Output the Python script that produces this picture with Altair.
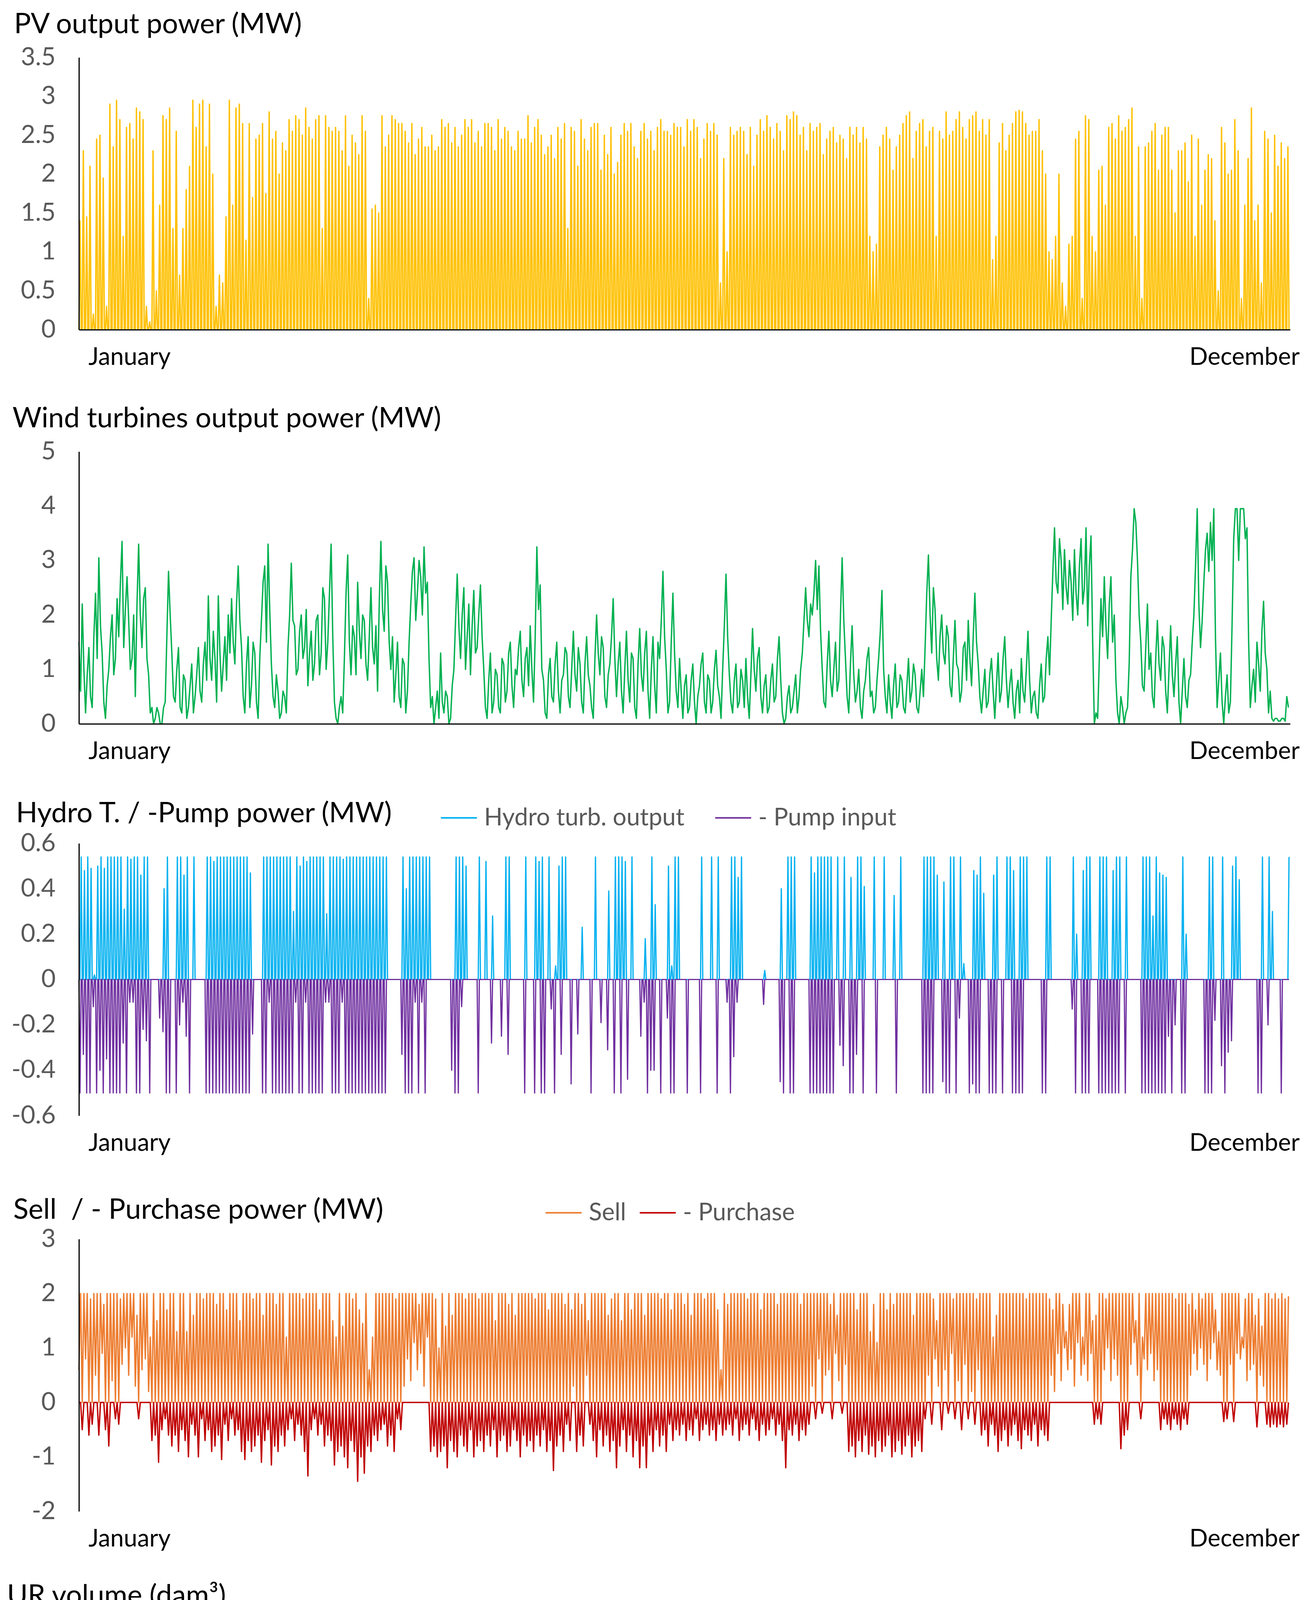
import altair as alt
import pandas as pd

FONT = "Lato"

# x-axis end labels
months = ["January", "December"]

# PV: daily peak output (MW), one value per day, Jan 1 .. Dec 31
pv_peak = [
    1.4, 2.3, 1.45, 2.1, 0.2, 2.45, 2.5, 1.95, 0.3, 2.9, 2.35, 2.95, 2.7, 1.2, 2.6, 2.65, 2.45, 2.85, 2.8, 2.7,
    0.3, 0.1, 2.3, 0.5, 1.6, 2.75, 2.7, 2.85, 1.3, 2.55, 0.7, 1.3, 1.8, 2.1, 2.95, 2.6, 2.9, 2.95, 2.35, 2.9,
    2.0, 0.3, 0.7, 0.6, 1.45, 2.95, 1.6, 2.85, 2.9, 2.65, 1.15, 2.65, 1.7, 2.45, 2.5, 2.65, 1.75, 2.8, 2.45, 2.55,
    2.0, 2.4, 2.3, 2.7, 2.55, 2.75, 2.7, 2.5, 2.85, 2.6, 2.45, 2.7, 2.75, 1.3, 2.75, 2.6, 2.55, 2.6, 2.55, 2.3,
    2.75, 2.1, 2.5, 2.4, 2.25, 2.75, 2.55, 0.4, 1.55, 1.6, 1.5, 2.75, 2.35, 2.5, 2.75, 2.7, 2.65, 2.65, 2.55, 2.4,
    2.65, 2.25, 2.45, 2.6, 2.35, 2.35, 2.5, 2.3, 2.35, 2.7, 2.6, 2.65, 2.4, 2.6, 2.35, 2.5, 2.7, 2.6, 2.7, 2.4,
    2.55, 2.35, 2.65, 2.65, 2.6, 2.3, 2.7, 2.45, 2.6, 2.55, 2.35, 2.3, 2.55, 2.45, 2.45, 2.75, 2.4, 2.6, 2.7, 2.5,
    2.25, 2.35, 2.5, 2.2, 2.6, 2.45, 2.65, 1.3, 2.6, 2.55, 2.1, 2.7, 2.45, 2.3, 2.6, 2.65, 2.65, 2.05, 2.5, 2.25,
    2.6, 2.0, 2.15, 2.5, 2.65, 2.55, 2.65, 2.35, 2.2, 2.55, 2.65, 2.45, 2.55, 2.3, 2.6, 2.7, 2.55, 2.55, 2.5, 2.65,
    2.6, 2.6, 2.35, 2.7, 2.55, 2.7, 2.6, 2.2, 2.45, 2.65, 2.55, 2.65, 2.5, 0.6, 2.2, 1.0, 2.6, 2.5, 2.55, 2.6,
    2.55, 2.25, 2.6, 2.1, 2.5, 2.7, 2.55, 2.75, 2.6, 2.45, 2.65, 2.55, 2.3, 2.75, 2.7, 2.8, 2.75, 2.5, 2.6, 2.3,
    2.65, 2.55, 2.6, 2.65, 2.25, 2.45, 2.55, 2.6, 2.4, 2.5, 2.45, 2.2, 2.6, 2.5, 2.6, 2.4, 2.6, 2.45, 1.2, 1.0,
    1.1, 2.35, 2.5, 2.6, 2.45, 2.05, 2.35, 2.5, 2.65, 2.75, 2.8, 2.2, 2.55, 2.65, 2.7, 2.35, 2.55, 2.6, 1.2, 2.55,
    2.45, 2.8, 2.5, 2.55, 2.7, 2.8, 2.6, 2.45, 2.7, 2.75, 2.8, 2.55, 2.7, 2.5, 2.7, 0.9, 1.2, 2.4, 2.65, 2.3,
    2.5, 2.65, 2.8, 2.82, 2.8, 2.65, 2.5, 2.55, 2.55, 2.7, 2.3, 2.0, 1.0, 0.9, 1.2, 2.0, 0.6, 0.3, 1.1, 1.2,
    2.45, 2.55, 0.4, 2.75, 2.7, 1.2, 1.0, 2.05, 2.1, 1.6, 2.6, 2.65, 2.45, 2.75, 2.55, 2.6, 2.7, 2.85, 1.2, 2.35,
    0.4, 2.35, 2.4, 2.55, 2.65, 2.05, 2.5, 2.6, 2.6, 2.05, 1.5, 2.3, 2.3, 2.4, 1.9, 2.5, 1.2, 2.45, 1.6, 2.05,
    2.25, 2.2, 1.4, 0.5, 2.6, 2.4, 2.0, 2.05, 2.7, 2.3, 0.4, 1.6, 2.2, 2.85, 1.4, 1.6, 0.6, 2.55, 2.45, 1.5,
    2.5, 2.1, 2.4, 2.2, 2.35,
]

# wind turbines output (MW): reading at midnight of each day ...
wind = [
    1.5, 2.2, 0.2, 1.4, 0.3, 2.4, 3.05, 1.3, 0.1, 1.0, 2.0, 1.2, 1.6, 3.35, 2.1, 1.9, 1.2, 0.5, 3.3, 1.4,
    2.5, 0.9, 0.3, 0.1, 0.2, 0.0, 0.4, 2.8, 1.3, 0.4, 1.4, 0.2, 0.8, 0.3, 1.1, 0.5, 1.4, 0.4, 1.5, 2.35,
    0.8, 1.2, 2.35, 0.6, 1.6, 2.0, 2.3, 1.1, 2.9, 1.4, 0.2, 1.6, 0.7, 1.3, 0.1, 1.9, 2.9, 3.3, 1.1, 0.3,
    0.6, 0.2, 0.5, 1.4, 2.95, 1.8, 1.0, 2.0, 1.4, 0.7, 1.7, 1.1, 2.0, 1.3, 2.3, 1.5, 3.3, 0.4, 0.0, 0.5,
    1.2, 3.1, 0.9, 1.6, 2.6, 1.2, 1.9, 0.8, 2.5, 1.1, 0.6, 3.35, 1.7, 2.6, 1.0, 0.4, 1.5, 0.3, 1.1, 0.6,
    2.2, 3.05, 2.4, 2.7, 3.25, 2.6, 0.3, 0.0, 0.6, 1.3, 0.2, 0.5, 0.1, 1.0, 2.75, 1.2, 2.5, 1.6, 0.9, 2.45,
    1.4, 2.55, 1.0, 0.1, 1.3, 0.4, 0.9, 0.2, 1.1, 0.6, 1.5, 0.3, 0.9, 1.7, 0.5, 1.4, 1.8, 0.4, 3.25, 2.55,
    0.8, 0.1, 1.2, 0.4, 1.5, 0.2, 0.9, 1.3, 0.3, 1.7, 0.6, 1.1, 0.2, 1.6, 0.7, 0.1, 2.0, 0.9, 1.4, 0.3,
    1.1, 2.3, 0.5, 1.5, 0.2, 1.7, 0.4, 1.2, 0.1, 1.75, 0.6, 1.7, 0.1, 1.6, 0.2, 1.2, 2.8, 1.0, 0.4, 2.4,
    0.6, 1.2, 0.1, 0.9, 0.3, 1.1, 0.0, 0.7, 1.3, 0.2, 0.8, 0.4, 1.35, 0.5, 1.0, 2.75, 0.9, 0.2, 1.1, 0.4,
    0.8, 1.2, 0.1, 1.75, 0.6, 1.4, 0.2, 0.9, 0.3, 1.1, 0.5, 1.6, 0.2, 0.1, 0.7, 0.3, 0.9, 0.5, 1.3, 2.5,
    1.6, 2.0, 3.0, 2.9, 1.0, 0.3, 1.7, 0.5, 1.5, 0.8, 3.05, 1.2, 0.2, 1.8, 0.4, 1.0, 0.1, 0.8, 1.4, 0.6,
    0.3, 1.2, 2.45, 0.5, 0.9, 0.1, 1.1, 0.4, 0.8, 0.2, 1.2, 0.6, 0.9, 0.2, 1.0, 1.4, 3.1, 1.3, 2.1, 0.8,
    2.0, 1.1, 1.6, 0.5, 1.9, 1.0, 0.6, 1.5, 1.9, 0.7, 2.4, 1.1, 0.2, 1.0, 0.4, 1.2, 0.1, 1.3, 0.6, 1.6,
    0.3, 1.0, 0.1, 0.8, 1.2, 0.4, 1.7, 0.2, 0.6, 0.1, 1.1, 0.5, 1.6, 1.9, 3.6, 2.4, 3.0, 3.2, 2.2, 2.6,
    3.2, 2.0, 3.4, 2.5, 1.8, 3.45, 0.0, 0.1, 2.3, 2.7, 1.2, 2.7, 2.0, 0.2, 0.5, 0.0, 0.3, 2.7, 3.95, 3.0,
    1.5, 0.6, 2.2, 1.3, 0.3, 1.9, 0.8, 1.4, 0.2, 1.8, 0.5, 1.6, 0.0, 1.2, 0.3, 0.9, 2.0, 3.95, 1.4, 2.6,
    3.5, 3.7, 3.95, 0.3, 1.3, 0.0, 0.9, 0.4, 3.4, 3.95, 3.95, 3.95, 3.6, 0.3, 1.0, 1.5, 0.6, 2.25, 1.0, 0.6,
    0.05, 0.1, 0.05, 0.1, 0.5,
]
# ... and at noon of each day
wind_noon = [
    0.6, 1.0, 0.9, 0.5, 1.6, 1.2, 1.8, 0.4, 0.7, 1.6, 0.9, 2.3, 2.6, 1.4, 2.7, 1.0, 2.0, 2.2, 2.0, 2.3,
    1.2, 0.2, 0.0, 0.3, 0.0, 0.3, 1.6, 2.0, 0.5, 1.0, 0.3, 0.9, 0.1, 0.7, 0.2, 0.9, 0.6, 1.1, 0.8, 1.2,
    1.7, 0.4, 1.3, 1.1, 0.8, 1.3, 1.5, 2.2, 1.9, 0.5, 1.1, 0.3, 1.5, 0.4, 1.2, 2.6, 1.5, 2.1, 0.5, 0.9,
    0.1, 0.6, 0.2, 2.0, 1.9, 0.9, 1.7, 1.2, 2.1, 1.3, 0.8, 1.9, 0.9, 2.5, 1.0, 2.4, 1.6, 0.1, 0.3, 0.2,
    2.4, 1.5, 1.8, 0.9, 1.7, 2.0, 1.1, 1.6, 1.4, 1.8, 2.2, 2.1, 2.9, 1.5, 1.6, 0.9, 0.5, 1.2, 0.2, 1.5,
    2.8, 1.9, 3.0, 2.0, 2.4, 1.2, 0.5, 0.3, 0.1, 0.4, 0.6, 0.0, 0.7, 1.9, 1.8, 2.0, 1.0, 2.2, 1.8, 1.3,
    2.0, 1.6, 0.3, 0.8, 0.2, 1.0, 0.3, 1.2, 0.4, 1.3, 0.7, 1.0, 1.4, 0.8, 1.2, 0.7, 1.0, 1.6, 2.1, 1.0,
    0.2, 0.9, 0.5, 1.1, 0.6, 0.8, 1.4, 0.5, 1.0, 0.9, 1.4, 0.4, 1.1, 0.9, 0.3, 1.2, 1.3, 1.6, 0.5, 0.9,
    1.6, 1.2, 1.1, 0.6, 1.0, 0.8, 1.3, 0.3, 1.1, 0.9, 1.3, 0.6, 1.0, 0.7, 1.5, 1.9, 1.6, 0.2, 1.5, 1.3,
    0.3, 0.6, 0.7, 0.2, 0.8, 0.4, 0.5, 1.1, 0.4, 0.9, 0.2, 1.0, 0.7, 0.1, 1.8, 1.6, 0.4, 0.8, 0.3, 1.0,
    0.3, 0.5, 0.9, 1.0, 1.2, 0.5, 0.7, 0.2, 0.8, 0.4, 1.2, 0.8, 0.0, 0.5, 0.2, 0.6, 0.2, 1.0, 1.9, 1.9,
    2.2, 2.4, 2.1, 1.7, 0.4, 1.1, 0.8, 1.0, 0.6, 2.0, 1.9, 0.5, 1.1, 0.9, 0.6, 0.3, 0.6, 1.2, 0.5, 0.2,
    0.8, 1.7, 1.0, 0.2, 0.4, 0.7, 0.3, 0.9, 0.3, 0.7, 0.4, 1.1, 0.3, 0.6, 0.5, 2.4, 2.0, 2.5, 1.2, 1.6,
    1.3, 1.8, 0.7, 1.2, 1.1, 0.4, 1.4, 0.8, 1.2, 1.6, 1.5, 0.5, 0.6, 0.3, 0.9, 0.6, 0.7, 0.4, 1.2, 0.8,
    0.7, 0.4, 0.6, 0.2, 0.6, 1.0, 0.8, 0.5, 0.2, 0.7, 0.4, 1.2, 0.9, 2.8, 2.6, 3.4, 2.1, 2.5, 3.0, 1.9,
    2.4, 2.9, 2.2, 3.6, 2.9, 1.5, 0.2, 1.2, 1.6, 1.8, 2.2, 1.5, 0.8, 0.0, 0.3, 0.2, 1.1, 3.2, 3.7, 2.0,
    0.7, 1.4, 1.0, 0.5, 1.2, 1.1, 1.6, 0.6, 1.0, 0.9, 1.1, 0.4, 0.6, 0.5, 0.8, 1.5, 2.9, 2.2, 1.9, 3.2,
    2.8, 3.0, 1.6, 0.8, 0.4, 0.5, 0.2, 1.8, 3.95, 3.0, 3.95, 3.4, 1.5, 0.7, 0.4, 1.1, 1.7, 1.3, 0.2, 0.1,
    0.1, 0.05, 0.1, 0.05, 0.3,
]

# hydro turbine daytime peak (MW)
hydro_turb = [
    0.54, 0.48, 0.54, 0.49, 0.02, 0.5, 0.54, 0.49, 0.54, 0.54, 0.54, 0.54, 0.54, 0.31, 0.54, 0.53, 0.54, 0.54, 0.46, 0.54,
    0.54, 0, 0, 0, 0, 0.4, 0.54, 0, 0, 0.54, 0.54, 0.46, 0.54, 0, 0.54, 0, 0, 0, 0.54, 0.54,
    0.52, 0.54, 0.54, 0.54, 0.54, 0.54, 0.54, 0.54, 0.54, 0.54, 0.54, 0.47, 0, 0, 0, 0.54, 0.54, 0.54, 0.54, 0.54,
    0.54, 0.54, 0.54, 0.54, 0.3, 0.54, 0.5, 0.54, 0.52, 0.54, 0.54, 0.54, 0.54, 0.54, 0.29, 0.54, 0.54, 0.54, 0.54, 0.53,
    0.54, 0.54, 0.54, 0.54, 0.54, 0.54, 0.54, 0.54, 0.54, 0.54, 0.54, 0.54, 0.54, 0, 0, 0, 0, 0.54, 0.4, 0.54,
    0.54, 0.54, 0.54, 0.54, 0.54, 0.54, 0, 0, 0, 0, 0, 0, 0, 0.54, 0.54, 0.54, 0.5, 0, 0, 0,
    0.54, 0, 0.52, 0, 0.28, 0, 0, 0, 0.54, 0.54, 0, 0, 0, 0, 0.54, 0, 0, 0.54, 0.52, 0.54,
    0, 0.54, 0, 0.06, 0.5, 0.54, 0.54, 0, 0, 0, 0, 0.23, 0, 0, 0, 0.54, 0, 0, 0, 0.39,
    0, 0.54, 0.54, 0.54, 0.52, 0, 0.54, 0, 0, 0, 0.18, 0, 0.54, 0.33, 0, 0, 0, 0.5, 0.06, 0.54,
    0.54, 0, 0, 0, 0, 0, 0, 0.54, 0, 0, 0.54, 0, 0.54, 0, 0, 0, 0.54, 0.54, 0.45, 0.54,
    0, 0, 0, 0, 0, 0, 0.04, 0, 0, 0, 0, 0.4, 0, 0.54, 0.54, 0.54, 0, 0, 0, 0,
    0.54, 0.47, 0.54, 0.54, 0.54, 0.54, 0.54, 0, 0.54, 0, 0.54, 0, 0.45, 0, 0.54, 0.54, 0.41, 0, 0, 0.54,
    0, 0, 0.54, 0, 0, 0.37, 0, 0.54, 0, 0, 0, 0, 0, 0, 0.54, 0.54, 0.54, 0.54, 0.46, 0,
    0.43, 0, 0.54, 0.54, 0, 0.54, 0.07, 0, 0, 0.48, 0.46, 0.54, 0.38, 0, 0, 0.46, 0.54, 0, 0, 0.54,
    0.54, 0.48, 0, 0.54, 0.54, 0.54, 0, 0, 0, 0, 0, 0.54, 0.54, 0, 0, 0, 0, 0, 0, 0.54,
    0.2, 0, 0.48, 0.54, 0.54, 0, 0, 0.54, 0.54, 0.54, 0, 0.48, 0.54, 0.54, 0, 0.54, 0, 0, 0, 0,
    0.54, 0.54, 0.54, 0.28, 0.54, 0.47, 0.46, 0.45, 0, 0, 0, 0, 0.54, 0.2, 0, 0, 0, 0, 0, 0,
    0.54, 0.54, 0, 0, 0.54, 0, 0, 0.5, 0.54, 0.44, 0, 0, 0, 0, 0, 0, 0.54, 0, 0.54, 0.3,
    0, 0, 0, 0, 0.54,
]

# pump night-time input (MW, negative)
hydro_pump = [
    -0.5, -0.33, -0.5, -0.5, -0.12, -0.5, -0.4, -0.5, -0.35, -0.5, -0.5, -0.5, -0.5, -0.28, -0.5, -0.1, -0.1, -0.5, -0.5, -0.22,
    -0.27, -0.5, 0, 0, -0.17, -0.23, -0.5, -0.5, 0, -0.5, -0.2, -0.1, -0.25, -0.5, 0, 0, 0, 0, -0.5, -0.5,
    -0.5, -0.5, -0.5, -0.5, -0.5, -0.5, -0.5, -0.5, -0.5, -0.5, -0.5, -0.5, -0.24, 0, 0, -0.5, -0.5, -0.1, -0.5, -0.5,
    -0.5, -0.5, -0.5, -0.5, -0.5, -0.1, -0.5, -0.5, -0.1, -0.5, -0.5, -0.5, -0.5, -0.5, -0.1, -0.1, -0.5, -0.5, -0.5, -0.1,
    -0.5, -0.5, -0.5, -0.5, -0.5, -0.5, -0.5, -0.5, -0.5, -0.5, -0.5, -0.5, -0.5, 0, 0, 0, 0, -0.33, -0.5, -0.5,
    -0.5, -0.1, -0.5, -0.1, -0.5, 0, 0, 0, 0, 0, 0, 0, -0.4, -0.5, -0.5, -0.12, 0, 0, 0, 0,
    -0.5, 0, 0, 0, -0.28, 0, 0, -0.25, 0, -0.33, 0, 0, 0, 0, -0.5, 0, 0, -0.5, 0, -0.5,
    -0.5, 0, -0.13, -0.5, 0, -0.33, 0, 0, -0.46, 0, -0.24, 0, 0, 0, -0.5, 0, 0, -0.19, 0, -0.31,
    0, -0.5, 0, -0.5, 0, -0.44, 0, 0, 0, -0.25, -0.1, -0.5, -0.4, -0.4, 0, -0.5, 0, -0.17, -0.5, -0.5,
    0, 0, 0, -0.5, 0, 0, 0, -0.5, 0, 0, 0, 0, -0.5, 0, 0, -0.1, -0.5, -0.34, -0.1, 0,
    0, 0, 0, 0, 0, 0, -0.11, 0, 0, 0, 0, -0.45, -0.5, 0, -0.5, -0.5, 0, 0, 0, 0,
    -0.5, -0.5, -0.5, -0.5, -0.5, -0.5, -0.5, -0.5, 0, -0.29, -0.38, 0, -0.5, -0.5, -0.33, 0, -0.5, 0, 0, 0,
    -0.5, 0, 0, 0, 0, 0, -0.5, 0, 0, 0, 0, 0, 0, 0, -0.5, -0.5, -0.5, -0.5, 0, 0,
    -0.45, -0.5, -0.5, 0, -0.5, -0.17, 0, 0, -0.5, -0.46, -0.5, -0.5, 0, 0, -0.5, -0.5, -0.5, 0, -0.5, 0,
    0, -0.5, -0.5, -0.5, -0.5, 0, 0, 0, 0, 0, -0.5, -0.5, 0, 0, 0, 0, 0, 0, 0, -0.13,
    -0.5, 0, -0.5, -0.5, -0.5, 0, 0, -0.5, -0.5, -0.5, -0.5, -0.5, -0.5, -0.5, 0, -0.5, 0, 0, 0, 0,
    -0.5, -0.5, -0.5, -0.5, -0.5, -0.5, -0.5, -0.5, -0.25, -0.5, -0.2, 0, -0.5, -0.5, 0, 0, 0, 0, 0, -0.5,
    -0.5, -0.5, -0.18, 0, -0.38, -0.5, -0.32, -0.27, 0, 0, 0, 0, 0, 0, 0, -0.5, -0.5, 0, -0.2, 0,
    0, 0, -0.5, 0, 0,
]

# grid exchange: daytime sell peak (MW)
grid_day = [
    2, 2, 2, 1.9, 2, 2, 2, 1.8, 2, 2, 2, 2, 1.9, 2, 2, 2, 2, 1.6, 2, 2,
    2, 1.2, 2, 1.5, 2, 2, 1.7, 2, 2, 1.3, 2, 2, 1.3, 2, 1.6, 2, 2, 1.9, 2, 2,
    2, 1.8, 2, 2, 1.7, 2, 2, 2, 1.5, 2, 2, 2, 1.9, 2, 2, 1.6, 2, 2, 2, 1.8,
    2, 2, 1.2, 2, 2, 2, 2, 1.9, 2, 2, 2, 2, 1.7, 2, 2, 2, 1.5, 1.2, 2, 1.4,
    2, 2, 1.9, 2, 1.7, 1.45, 2, 0.6, 1.2, 2, 2, 2, 2, 2, 2, 1.9, 2, 2, 2, 2,
    2, 2, 1.8, 2, 2, 2, 2, 1.9, 1.0, 2, 1.4, 2, 1.6, 2, 2, 2, 1.9, 2, 2, 2,
    1.9, 2, 2, 2, 2, 1.5, 2, 2, 2, 1.8, 2, 1.6, 2, 2, 2, 2, 2, 1.9, 2, 2,
    2, 1.7, 2, 2, 2, 2, 1.8, 2, 1.7, 2, 2, 1.8, 2, 1.5, 2, 2, 2, 2, 2, 1.6,
    1.9, 2, 2, 1.5, 2, 2, 1.7, 2, 2, 2, 1.6, 2, 2, 2, 2, 1.9, 2, 2, 1.7, 2,
    2, 2, 1.8, 2, 1.6, 2, 2, 2, 1.9, 2, 2, 2, 1.7, 0.6, 2, 1.8, 2, 2, 2, 2,
    2, 1.9, 2, 2, 2, 1.7, 2, 2, 2, 2, 1.8, 2, 2, 2, 2, 2, 2, 1.8, 2, 2,
    2, 2, 2, 2, 2, 2, 1.8, 2, 1.6, 2, 2, 2, 2, 2, 1.7, 2, 2, 2, 1.3, 1.8,
    1.1, 2, 2, 1.7, 2, 1.8, 2, 2, 2, 2, 2, 1.6, 2, 2, 2, 2, 2, 1.9, 1.5, 2,
    2, 2, 2, 1.9, 2, 2, 2, 2, 2, 2, 1.9, 2, 2, 2, 2, 1.2, 1.6, 2, 2, 2,
    2, 2, 2, 2, 2, 1.9, 2, 2, 2, 2, 2, 2, 1.9, 1.7, 2, 2, 1.8, 1.3, 1.8, 2,
    2, 2, 1.2, 2, 2, 1.5, 1.6, 2, 2, 1.9, 2, 2, 2, 2, 2, 2, 2, 2, 1.5, 2,
    1.2, 2, 2, 2, 2, 2, 2, 2, 2, 2, 1.9, 2, 2, 2, 1.8, 2, 1.7, 2, 1.9, 2,
    2, 2, 1.7, 1.3, 2, 2, 2, 2, 2, 2, 1.2, 1.9, 2, 2, 1.6, 1.9, 1.4, 2, 2, 1.9,
    2, 1.9, 2, 1.9, 1.95,
]

# grid exchange at night (MW): positive = still selling, negative = purchase
grid_night = [
    0.6, -0.5, 0.8, -0.6, -0.4, 0.5, -0.6, 0.9, -0.5, -0.8, 0.4, -0.3, -0.4, 0.7, 1.0, 0.5, 1.2, 0.3, -0.3, 0.6,
    0.8, 0.2, -0.7, -0.6, -1.1, -0.5, -0.3, -0.6, -0.8, -0.6, -0.9, -0.5, -0.7, -1.0, -0.4, -0.6, -1.0, -0.3, -0.7, -0.5,
    -0.9, -0.8, -0.6, -1.05, -0.4, -0.7, -0.3, -0.6, -0.5, -0.9, -1.05, -0.7, -0.9, -0.8, -0.6, -1.1, -0.7, -0.5, -1.15, -0.8,
    -0.9, -0.6, -0.8, -0.5, -0.3, -0.7, -0.4, -0.6, -0.9, -1.35, -0.5, -0.3, -0.6, -0.4, -0.8, -0.6, -0.7, -1.15, -0.9, -0.8,
    -1.0, -1.2, -0.7, -0.9, -1.45, -1.0, -1.3, -0.8, -0.9, -0.6, -0.7, -0.5, -0.4, -0.8, -0.6, -0.9, -0.3, -0.5, 0.3, 0.8,
    0.4, 1.1, 0.6, 0.9, 0.3, 1.2, -0.9, -0.8, -1.0, -0.9, -0.8, -1.2, -0.7, -0.9, -1.0, -0.6, -0.8, -0.9, -0.5, -1.0,
    -0.8, -0.7, -0.9, -0.6, -0.8, -0.5, -1.0, -0.7, -0.6, -0.9, -0.8, -0.5, -0.7, -1.0, -0.6, -0.8, -0.7, -0.9, -0.6, -0.8,
    -0.5, -0.9, -0.7, -1.25, -0.8, -0.6, -0.9, -0.4, -0.7, 0.3, -0.9, -0.6, -0.8, 0.5, -0.4, -0.7, -1.0, -0.5, -0.8, -0.6,
    -0.9, -0.7, -1.2, -0.8, -0.5, -0.9, -0.6, -1.0, -0.7, -1.2, -0.8, -1.2, -0.6, -0.9, -0.5, -0.8, -0.6, -0.9, -0.4, -0.7,
    -0.5, -0.6, -0.4, -0.7, -0.5, -0.6, -0.3, -0.7, -0.5, -0.4, -0.6, -0.5, -0.7, -0.4, -0.6, -0.5, -0.4, -0.6, -0.3, -0.7,
    -0.5, -0.4, -0.6, -0.3, -0.5, -0.7, -0.4, -0.6, -0.5, -0.3, -0.6, -0.4, -0.7, -1.2, -0.5, -0.6, -0.4, -0.7, -0.5, -0.6,
    -0.4, 0.3, -0.3, 0.8, -0.2, 0.5, 0.6, -0.3, 0.9, 0.4, -0.2, 0.7, -0.9, -0.8, -1.0, -0.7, -0.9, -0.6, -0.95, -0.8,
    -1.0, -0.7, -0.9, -0.8, -0.6, -1.0, -0.9, -0.7, -0.95, -0.8, -0.6, -1.0, -0.8, -0.7, -0.9, -0.3, 0.5, -0.4, 0.8, 0.3,
    -0.5, 0.6, -0.2, 0.9, -0.3, 0.4, -0.5, 0.7, -0.3, 0.2, -0.4, 0.6, -0.6, -0.5, -0.8, -0.4, -0.6, -0.9, -0.7, -0.5,
    -0.8, -0.6, -0.4, -0.7, -0.85, -0.5, -0.6, -0.7, -0.4, -0.8, -0.5, -0.6, -0.7, 0.5, 0.2, 0.9, 0.4, 1.0, 0.6, 0.8,
    0.3, 1.1, 0.5, 0.7, 0.4, 0.9, -0.4, -0.3, -0.4, 0.6, 1.0, 0.4, 0.8, 0.5, -0.85, -0.6, -0.5, 0.7, 1.1, 0.5,
    -0.3, 0.8, 0.6, 0.9, 0.4, 0.6, -0.5, -0.3, -0.4, -0.5, -0.3, -0.4, -0.5, -0.3, -0.4, 0.5, 0.9, 0.6, 1.0, 0.7,
    0.4, 0.8, 1.1, 0.6, 0.5, -0.35, -0.3, 0.7, -0.35, 0.9, 0.8, 1.0, 0.4, 0.6, 0.7, -0.45, 0.5, 0.3, -0.4, -0.45,
    -0.4, -0.45, -0.4, -0.45, -0.4,
]

# upper reservoir volume (dam3): level after night pumping / after daytime turbining
ur_high = [
    5.4, 0.7, 1.9, 0.1, 0, 3.5, 5.4, 5.4, 5.4, 5.4, 5.4, 5.4, 5.4, 5.4, 5.4, 5.4, 5.4, 5.4, 5.4, 5.4,
    5.4, 1.0, 0, 0, 0.6, 0, 5.4, 5.4, 5.4, 5.4, 0.25, 0.7, 0, 5.4, 5.4, 5.4, 5.4, 5.4, 5.4, 5.4,
    5.4, 5.4, 5.4, 4.7, 5.4, 5.4, 5.4, 5.4, 5.4, 5.4, 5.4, 5.4, 5.4, 5.4, 5.4, 4.7, 5.4, 5.4, 5.4, 5.4,
    5.4, 5.4, 4.7, 5.4, 3.2, 4.0, 5.4, 5.4, 5.4, 5.4, 5.4, 5.4, 5.4, 5.4, 5.4, 4.7, 5.4, 5.4, 5.4, 5.4,
    5.4, 5.4, 5.4, 5.4, 5.4, 5.4, 2.7, 5.4, 5.4, 5.4, 5.4, 2.7, 2.7, 5.4, 5.4, 5.4, 5.4, 5.4, 0.6, 0,
    5.4, 5.4, 5.4, 5.4, 5.4, 5.4, 0, 0, 0, 0, 0, 0, 0, 5.4, 5.4, 3.7, 3.7, 0.1, 0, 0,
    1.7, 5.4, 0, 0, 0.4, 0, 2.6, 0, 5.4, 5.4, 0, 0, 0, 5.4, 0, 0, 0, 5.4, 5.4, 5.4,
    5.4, 0, 0, 0.15, 1.7, 5.4, 5.4, 5.4, 0, 4.2, 0, 0.4, 0, 0, 5.4, 5.4, 0, 0.2, 0.6, 0,
    0, 5.4, 5.4, 5.4, 0, 0, 5.2, 0, 0, 0.3, 0.1, 0, 5.4, 0.5, 0, 0, 5.4, 0.3, 0.2, 5.4,
    5.4, 0, 0, 0, 5.4, 5.4, 5.4, 5.4, 5.4, 5.4, 5.4, 0, 5.4, 0, 0, 5.4, 5.0, 5.4, 1.4, 5.4,
    0, 0, 0, 0, 0, 0.15, 0, 0, 0, 0, 0, 2.0, 0, 5.4, 5.4, 5.4, 0, 0, 0, 0,
    5.4, 5.4, 4.5, 5.4, 5.4, 5.4, 5.4, 5.4, 4.3, 0, 5.4, 1.6, 0, 5.4, 5.4, 1.9, 0, 0, 0, 5.4,
    0, 0, 0, 5.4, 0, 0.7, 0, 5.4, 0, 0, 0, 0, 0, 0, 4.7, 5.4, 0, 5.4, 2.7, 0,
    0, 0.7, 5.4, 5.4, 0, 5.4, 0, 0.2, 0, 3.6, 1.7, 5.4, 0, 0.7, 0, 5.4, 5.4, 5.4, 5.4, 5.4,
    0, 5.4, 0, 4.6, 2.5, 5.4, 5.4, 5.4, 5.4, 5.4, 5.4, 4.8, 5.4, 5.4, 5.4, 5.4, 5.4, 5.4, 5.4, 5.4,
    0.4, 5.4, 5.4, 5.4, 5.4, 5.4, 5.4, 5.4, 5.4, 5.4, 5.4, 5.4, 5.4, 5.4, 5.4, 5.4, 5.4, 5.4, 5.4, 5.4,
    5.4, 5.4, 5.4, 0.4, 0, 2.3, 3.5, 1.4, 0, 0, 0, 0, 4.9, 0.2, 0, 0, 0, 5.4, 5.4, 5.4,
    5.4, 5.4, 5.4, 5.4, 5.4, 5.4, 4.5, 5.4, 0, 0, 0, 5.4, 5.4, 5.4, 5.4, 5.4, 5.4, 5.4, 2.7, 0,
    0.5, 0, 0, 5.4, 5.4,
]
ur_low = [
    0, 0, 0, 0, 0, 0, 0, 5.4, 0, 0, 0, 5.4, 0, 5.4, 0, 0, 5.4, 0, 0, 5.4,
    0, 0, 0, 0, 0, 0, 5.4, 0, 5.4, 0, 0, 0, 0, 5.4, 5.4, 5.4, 5.4, 5.4, 5.4, 0,
    0, 0, 5.4, 0, 0, 5.4, 0, 2.7, 5.4, 0, 5.4, 5.4, 0, 5.4, 5.4, 0, 0, 0, 0, 0,
    0, 0, 0, 0, 0, 0, 0, 0, 0, 5.4, 0, 5.4, 0, 0, 5.4, 0, 5.4, 0, 0, 5.4,
    0, 5.4, 0, 0, 5.4, 0, 0, 0, 5.4, 0, 0, 2.7, 2.7, 5.4, 5.4, 5.4, 5.4, 0, 0, 0,
    0, 0, 0, 0, 0, 0, 0, 0, 0, 0, 0, 0, 0, 0, 3.7, 3.7, 0, 0, 0, 0,
    0, 0, 0, 0, 0, 0, 0, 0, 0, 0, 0, 0, 0, 0, 0, 0, 0, 0, 0, 0,
    0, 0, 0, 0, 0, 5.4, 0, 0, 0, 0, 0, 0, 0, 0, 0, 0, 0, 0, 0, 0,
    0, 0, 0, 0, 0, 0, 0, 0, 0, 0, 0, 0, 0, 0, 0, 0, 0, 0, 0, 0,
    0, 0, 0, 0, 5.4, 5.4, 2.7, 2.7, 5.4, 5.4, 0, 0, 0, 0, 0, 0, 0, 0, 0, 0,
    0, 0, 0, 0, 0, 0, 0, 0, 0, 0, 0, 0, 0, 0, 0, 0, 0, 0, 0, 0,
    0, 0, 0, 0, 5.4, 0, 0, 0, 0, 0, 0, 0, 0, 0, 0, 0, 0, 0, 0, 0,
    0, 0, 0, 0, 0, 0, 0, 0, 0, 0, 0, 0, 0, 0, 0, 0, 0, 0, 0, 0,
    0, 0, 0, 0, 0, 0, 0, 0, 0, 0, 0, 0, 0, 0, 0, 5.4, 0, 5.4, 0, 5.4,
    0, 0, 0, 0, 0, 5.4, 5.4, 5.4, 5.4, 5.4, 5.4, 0, 5.4, 5.4, 5.4, 5.4, 5.4, 5.4, 5.4, 0,
    0, 5.4, 1.2, 5.4, 0, 5.4, 5.4, 2.7, 5.4, 0, 0, 0, 0, 5.4, 0, 0, 5.4, 5.4, 5.4, 5.4,
    5.4, 5.4, 0, 0, 0, 0, 0, 0, 0, 0, 0, 0, 2.7, 0, 0, 0, 0, 5.4, 5.4, 5.4,
    5.4, 0, 5.4, 5.4, 5.4, 4.5, 4.5, 0, 0, 0, 0, 5.4, 5.4, 5.4, 5.4, 5.4, 5.4, 0, 0, 0,
    0, 0, 0, 2.7, 2.7,
]

hydro_names = ["Hydro turb. output", "- Pump input"]
grid_names = ["Sell", "- Purchase"]

# ---- long tables: t = day of year (fractional within the day) ----
pv_df = pd.DataFrame(
    [(d + k / 3, v) for d, p in enumerate(pv_peak) for k, v in enumerate((0.0, p, 0.0))],
    columns=["t", "v"])
wind_df = pd.DataFrame(
    [(d + k / 2, v) for d, pair in enumerate(zip(wind, wind_noon)) for k, v in enumerate(pair)],
    columns=["t", "v"])
turb_df = pd.DataFrame(
    [(d + k / 3, v, hydro_names[0]) for d, h in enumerate(hydro_turb) for k, v in enumerate((0.0, 0.0, h))],
    columns=["t", "v", "s"])
pump_df = pd.DataFrame(
    [(d + k / 3, v, hydro_names[1]) for d, h in enumerate(hydro_pump) for k, v in enumerate((0.0, h, 0.0))],
    columns=["t", "v", "s"])
sell_df = pd.DataFrame(
    [(d + k / 2, v, grid_names[0]) for d, (g, n) in enumerate(zip(grid_day, grid_night))
     for k, v in enumerate((max(n, 0.0), g))],
    columns=["t", "v", "s"])
buy_df = pd.DataFrame(
    [(d + k / 2, v, grid_names[1]) for d, n in enumerate(grid_night) for k, v in enumerate((min(n, 0.0), 0.0))],
    columns=["t", "v", "s"])
ur_df = pd.DataFrame(
    [(d + k / 2, v) for d, (h, l) in enumerate(zip(ur_high, ur_low)) for k, v in enumerate((h, l))],
    columns=["t", "v"])

W, H = 3100, 697
EXTENT = 184
MONTH_EXPR = f"datum.value == 0 ? '{months[0]}' : '{months[1]}'"


def x_enc(domain_line):
    return alt.X("t:Q", scale=alt.Scale(domain=[0, 365], nice=False, zero=False),
                 axis=alt.Axis(values=[0, 365], labelExpr=MONTH_EXPR, labelFlush=True, ticks=False,
                               grid=False, domain=domain_line, domainColor="black", domainWidth=3,
                               labelFont=FONT, labelFontSize=62, labelColor="black", labelPadding=40,
                               labelOffset=24, labelLimit=1000, title=None, zindex=1))


def y_enc(lo, hi, ticks):
    return alt.Y("v:Q", scale=alt.Scale(domain=[lo, hi], nice=False, zero=False),
                 axis=alt.Axis(values=ticks, labelExpr="'' + datum.value", ticks=False, grid=False,
                               domainColor="black", domainWidth=3, labelFont=FONT, labelFontSize=64,
                               labelColor="#595959", labelPadding=60, labelFlush=False,
                               minExtent=EXTENT, maxExtent=EXTENT, title=None, zindex=1))


def title(text, dx, dy=0):
    return alt.TitleParams(text, anchor="start", font=FONT, fontSize=72, fontWeight="normal",
                           color="black", offset=15, dx=dx, dy=dy)


def legend(x, y, gap):
    return alt.Legend(orient="none", legendX=x, legendY=y, direction="horizontal", title=None,
                      labelFont=FONT, labelFontSize=62, labelColor="#595959", labelLimit=1000,
                      symbolType="stroke", symbolSize=8500, symbolStrokeWidth=4,
                      columnPadding=gap, labelOffset=16, padding=0)


line = dict(strokeJoin="round", interpolate="linear")

p1 = alt.Chart(pv_df).mark_line(color="#FFC000", strokeWidth=3.5, **line).encode(
    x=x_enc(True), y=y_enc(0, 3.5, [0, 0.5, 1, 1.5, 2, 2.5, 3, 3.5])
).properties(width=W, height=H, title=title("PV output power (MW)", 18))

p2 = alt.Chart(wind_df).mark_line(color="#00B050", strokeWidth=3.5, **line).encode(
    x=x_enc(True), y=y_enc(0, 5, [0, 1, 2, 3, 4, 5])
).properties(width=W, height=H, title=title("Wind turbines output power (MW)", 14))

hydro_y = y_enc(-0.6, 0.6, [-0.6, -0.4, -0.2, 0, 0.2, 0.4, 0.6])
hydro_color = alt.Color("s:N", scale=alt.Scale(domain=hydro_names, range=["#00B0F0", "#7030A0"]),
                        legend=legend(924, -114, 70))
p3 = alt.layer(
    alt.Chart(turb_df).mark_line(strokeWidth=3.2, **line).encode(
        x=x_enc(False), y=hydro_y, color=hydro_color),
    alt.Chart(pump_df).mark_line(strokeWidth=3.2, **line).encode(
        x=x_enc(False), y=hydro_y, color=hydro_color),
).properties(width=W, height=H, title=title("Hydro T. / -Pump power (MW)", 23, 90))

grid_y = y_enc(-2, 3, [-2, -1, 0, 1, 2, 3])
grid_color = alt.Color("s:N", scale=alt.Scale(domain=grid_names, range=["#ED7D31", "#C00000"]),
                       legend=legend(1192, -116, 26))
p4 = alt.layer(
    alt.Chart(sell_df).mark_line(strokeWidth=3.5, **line).encode(
        x=x_enc(False), y=grid_y, color=grid_color),
    alt.Chart(buy_df).mark_line(strokeWidth=3.5, **line).encode(
        x=x_enc(False), y=grid_y, color=grid_color),
).properties(width=W, height=H, title=title("Sell\u00a0 / - Purchase power (MW)", 16, 94))

p5 = alt.Chart(ur_df).mark_line(color="#0070C0", strokeWidth=4.5, **line).encode(
    x=x_enc(True), y=y_enc(0, 6, [0, 1, 2, 3, 4, 5, 6])
).properties(width=W, height=H, title=title("UR volume (dam\u00b3)", 0, 8))

indep = dict(x="independent", y="independent", color="independent")
upper = alt.vconcat(p1, p2, p3, spacing=91).resolve_scale(**indep)
lower = alt.vconcat(p4, p5, spacing=80).resolve_scale(**indep)

chart = alt.vconcat(upper, lower, spacing=99).resolve_scale(**indep).properties(
    padding={"left": 10, "top": 19, "right": 5, "bottom": 5}, background="white"
).configure_view(stroke=None)

chart.save("out.html", embed_options={"renderer": "svg", "actions": False})
